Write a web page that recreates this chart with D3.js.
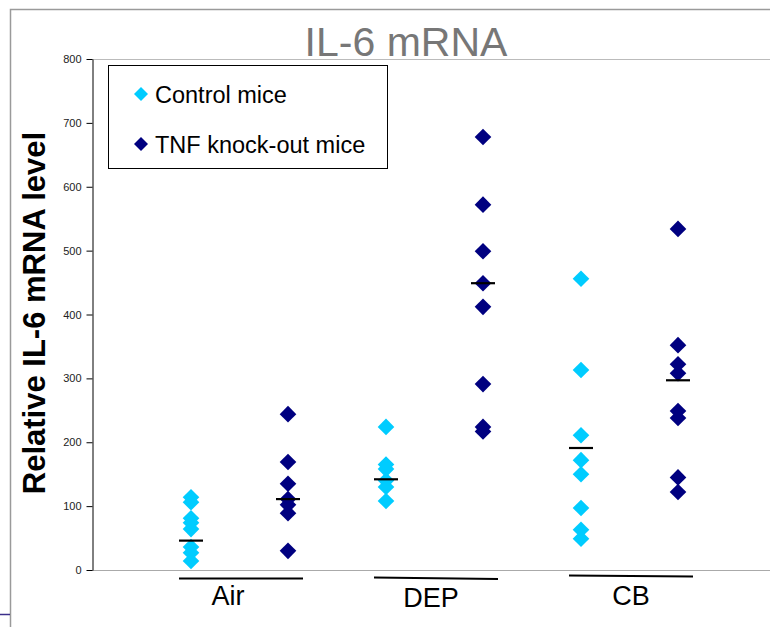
<!DOCTYPE html>
<html>
<head>
<meta charset="utf-8">
<title>IL-6 mRNA</title>
<script src="https://cdnjs.cloudflare.com/ajax/libs/d3/7.8.5/d3.min.js"></script>
<style>
    body { margin: 0; background: #fff; }
    text { font-family: "Liberation Sans", Arial, sans-serif; }
    .tick text { font-size: 11px; fill: #222; }
</style>
</head>
<body>
<div id="chart"></div>
<script>
// values
const categories = ['Air', 'DEP', 'CB'];
const seriesNames = ['Control mice', 'TNF knock-out mice'];
const seriesColors = ['#00ccff', '#000080'];

const controlAir = [114, 106, 81, 74, 64, 36, 27, 14];
const controlDEP = [224, 165, 158, 140, 130, 108];
const controlCB  = [456, 313, 211, 172, 150, 97, 63, 49];

const tnfAir = [244, 169, 135, 111, 102, 89, 30];
const tnfDEP = [678, 572, 499, 449, 412, 291, 224, 217];
const tnfCB  = [534, 352, 322, 308, 249, 238, 145, 122];

const controlMeans = [46, 142, 191];
const tnfMeans = [111, 449, 297];

const yTicks = [0, 100, 200, 300, 400, 500, 600, 700, 800];

const width = 770, height = 627;
const plot = { left: 92, top: 59, bottom: 570, right: 770 };

const svg = d3.select('#chart').append('svg')
    .attr('width', width)
    .attr('height', height);

// outer frame
svg.append('path')
    .attr('d', `M${width},9.5H10.5V${height}`)
    .attr('fill', 'none')
    .attr('stroke', '#9a9a9a')
    .attr('stroke-width', 1.5);
svg.append('line')
    .attr('x1', 0).attr('x2', 10).attr('y1', 614.5).attr('y2', 614.5)
    .attr('stroke', '#3b2f8a').attr('stroke-width', 1.5);

const y = d3.scaleLinear().domain([0, 800]).range([plot.bottom, plot.top]);
const x = d3.scalePoint().domain(categories).range([240, 630]);
const xs = d3.scalePoint().domain(seriesNames).range([-49, 48]);

// plot frame lines
svg.append('line')
    .attr('x1', plot.left).attr('x2', plot.right)
    .attr('y1', plot.top + 0.5).attr('y2', plot.top + 0.5)
    .attr('stroke', '#bbb');
svg.append('line')
    .attr('x1', plot.left).attr('x2', plot.right)
    .attr('y1', plot.bottom + 0.5).attr('y2', plot.bottom + 0.5)
    .attr('stroke', '#aaa');

// y axis
const yAxis = svg.append('g')
    .attr('transform', `translate(${plot.left + 0.5},0)`)
    .call(d3.axisLeft(y).tickValues(yTicks).tickSize(6).tickSizeOuter(0).tickPadding(5));
yAxis.select('.domain').attr('stroke', '#000');
yAxis.selectAll('.tick line').attr('stroke', '#000');

// title
svg.append('text')
    .attr('x', 406).attr('y', 56)
    .attr('text-anchor', 'middle')
    .attr('font-size', 41)
    .attr('fill', '#777')
    .text('IL-6 mRNA');

// y label
svg.append('text')
    .attr('transform', 'translate(45,313) rotate(-90)')
    .attr('text-anchor', 'middle')
    .attr('font-size', 31)
    .attr('font-weight', 'bold')
    .attr('fill', '#000')
    .text('Relative IL-6 mRNA level');

// points
const diamond = s => `M0,${-s}L${s},0L0,${s}L${-s},0Z`;
const series = [
    { name: seriesNames[0], color: seriesColors[0], values: [controlAir, controlDEP, controlCB], means: controlMeans },
    { name: seriesNames[1], color: seriesColors[1], values: [tnfAir, tnfDEP, tnfCB], means: tnfMeans }
];

series.forEach(s => {
    const pts = [];
    s.values.forEach((vals, i) => vals.forEach(v => pts.push({ cat: categories[i], v })));
    svg.append('g').selectAll('path')
        .data(pts)
        .join('path')
        .attr('d', diamond(8.3))
        .attr('fill', s.color)
        .attr('transform', d => `translate(${x(d.cat) + xs(s.name)},${y(d.v)})`);
});

// mean lines
series.forEach(s => {
    svg.append('g').selectAll('line')
        .data(s.means.map((m, i) => ({ cat: categories[i], m })))
        .join('line')
        .attr('x1', d => x(d.cat) + xs(s.name) - 12)
        .attr('x2', d => x(d.cat) + xs(s.name) + 12)
        .attr('y1', d => y(d.m))
        .attr('y2', d => y(d.m))
        .attr('stroke', '#000')
        .attr('stroke-width', 2.2);
});

// group underlines and labels
const lineY = { Air: [578.5, 578.5], DEP: [577.5, 579], CB: [575.5, 576.5] };
const labelShift = { Air: -12, DEP: -4, CB: 1 };
svg.append('g').selectAll('line')
    .data(categories)
    .join('line')
    .attr('x1', d => x(d) - 61)
    .attr('x2', d => x(d) + 63)
    .attr('y1', d => lineY[d][0])
    .attr('y2', d => lineY[d][1])
    .attr('stroke', '#000')
    .attr('stroke-width', 2.2);
svg.append('g').selectAll('text')
    .data(categories)
    .join('text')
    .attr('x', d => x(d) + labelShift[d])
    .attr('y', d => d === 'DEP' ? 607 : 605)
    .attr('text-anchor', 'middle')
    .attr('font-size', 27)
    .attr('fill', '#000')
    .text(d => d);

// legend
const legend = svg.append('g');
legend.append('rect')
    .attr('x', 108.5).attr('y', 65.5)
    .attr('width', 279).attr('height', 103)
    .attr('fill', '#fff')
    .attr('stroke', '#000');
const items = legend.selectAll('g.item')
    .data(series)
    .join('g')
    .attr('class', 'item')
    .attr('transform', (d, i) => `translate(141,${94 + i * 50})`);
items.append('path')
    .attr('d', diamond(7))
    .attr('fill', d => d.color);
items.append('text')
    .attr('x', 14).attr('y', 8.5)
    .attr('font-size', 23.5)
    .attr('fill', '#000')
    .text(d => d.name);
</script>
</body>
</html>
